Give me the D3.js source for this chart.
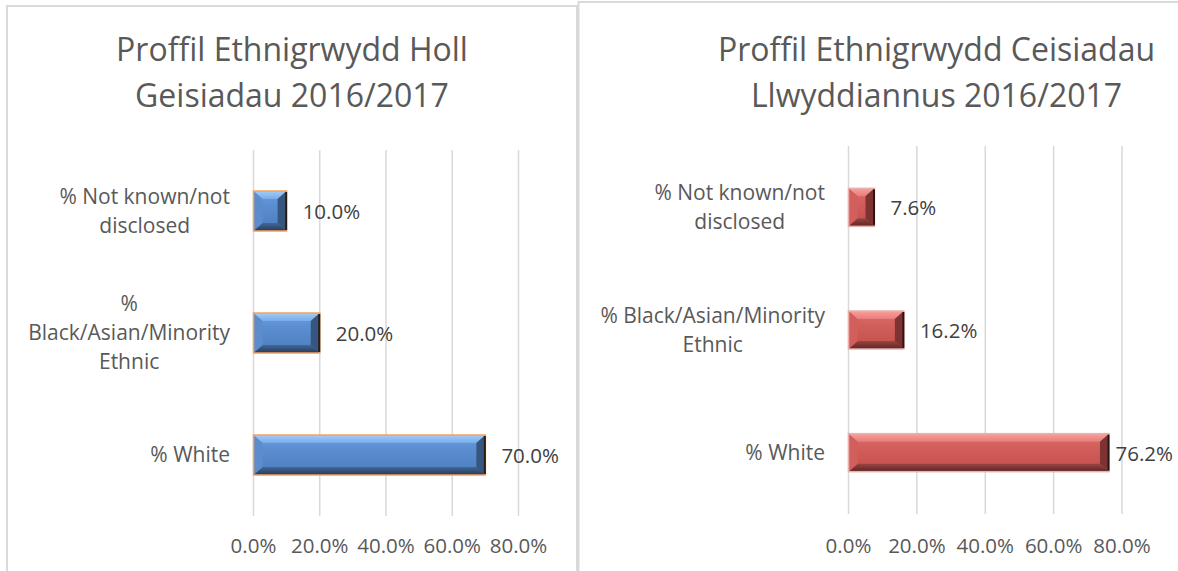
<!DOCTYPE html>
<html>
<head>
<meta charset="utf-8">
<script src="https://cdnjs.cloudflare.com/ajax/libs/d3/7.8.5/d3.min.js"></script>
<style>
  body { margin: 0; background: #fff; }
  svg { display: block; font-family: "Open Sans", "Noto Sans", sans-serif; }
</style>
</head>
<body>
<script>
// categories, bottom to top (Excel order)
const categories = ["% White", "% Black/Asian/Minority Ethnic", "% Not known/not disclosed"];

// wrapped labels as they appear in each chart
const leftLabelLines = [["% White"], ["%", "Black/Asian/Minority", "Ethnic"], ["% Not known/not", "disclosed"]];
const rightLabelLines = [["% White"], ["% Black/Asian/Minority", "Ethnic"], ["% Not known/not", "disclosed"]];

// values in percent
const allApplicants = [70.0, 20.0, 10.0];
const successfulApplicants = [76.2, 16.2, 7.6];

const tickValues = [0, 20, 40, 60, 80];

const leftTitle = ["Proffil Ethnigrwydd Holl", "Geisiadau 2016/2017"];
const rightTitle = ["Proffil Ethnigrwydd Ceisiadau", "Llwyddiannus 2016/2017"];

const svg = d3.select("body")
  .append("svg")
  .attr("width", 1178)
  .attr("height", 571);

const defs = svg.append("defs");

function gradient(id, stops) {
  const g = defs.append("linearGradient")
    .attr("id", id)
    .attr("x1", 0).attr("y1", 0).attr("x2", 0).attr("y2", 1);
  stops.forEach(s => g.append("stop").attr("offset", s[0]).attr("stop-color", s[1]));
}

// blue bevel palette
gradient("blueMid", [[0, "#6c9fde"], [0.35, "#5b8ed1"], [1, "#4d7cba"]]);
gradient("blueTop", [[0, "#a3cdf7"], [1, "#78abe8"]]);
gradient("blueBot", [[0, "#41679a"], [1, "#283b55"]]);
// red bevel palette
gradient("redMid", [[0, "#dd6d6a"], [0.35, "#d25f5c"], [1, "#c44f4c"]]);
gradient("redTop", [[0, "#f7a09c"], [1, "#e87c79"]]);
gradient("redBot", [[0, "#9a4542"], [1, "#5a2523"]]);

const blueStyle = { mid: "url(#blueMid)", top: "url(#blueTop)", bot: "url(#blueBot)",
  left: "#5c8ccc", right: "#36567f", edge: "#2a1c10", outline: "#f4a25f" };
const redStyle = { mid: "url(#redMid)", top: "url(#redTop)", bot: "url(#redBot)",
  left: "#d35f5c", right: "#7c3331", edge: "#2e1514", outline: "#e9b0ae" };

// panel borders
svg.append("rect")
  .attr("x", 7).attr("y", 6)
  .attr("width", 570).attr("height", 620)
  .attr("fill", "none").attr("stroke", "#d9d9d9").attr("stroke-width", 2);
svg.append("rect")
  .attr("x", 578.5).attr("y", 2)
  .attr("width", 700).attr("height", 620)
  .attr("fill", "none").attr("stroke", "#d9d9d9").attr("stroke-width", 2);

function drawChart(cfg) {
  const g = svg.append("g");

  // title
  g.selectAll(".title")
    .data(cfg.title)
    .join("text")
    .attr("x", cfg.titleX)
    .attr("y", (d, i) => 61 + i * 45.5)
    .attr("text-anchor", "middle")
    .attr("font-size", "32px")
    .attr("fill", "#595959")
    .text(d => d);

  const x = d3.scaleLinear().domain([0, 80]).range([cfg.x0, cfg.x1]);
  const p = 1 - cfg.barH / ((cfg.bottom - cfg.top) / categories.length);
  const y = d3.scaleBand()
    .domain(categories.slice().reverse())
    .range([cfg.top, cfg.bottom])
    .paddingInner(p)
    .paddingOuter(p / 2);

  // gridlines
  g.selectAll(".grid")
    .data(tickValues)
    .join("line")
    .attr("x1", d => x(d)).attr("x2", d => x(d))
    .attr("y1", cfg.top).attr("y2", cfg.bottom)
    .attr("stroke", "#d9d9d9")
    .attr("stroke-width", 1.5);

  // tick labels
  g.selectAll(".tick")
    .data(tickValues)
    .join("text")
    .attr("x", d => x(d))
    .attr("y", 553)
    .attr("text-anchor", "middle")
    .attr("font-size", "20.5px")
    .attr("fill", "#595959")
    .text(d => d3.format(".1f")(d) + "%");

  // bars with bevel
  const st = cfg.style;
  categories.forEach((c, i) => {
    const bx = x(0), by = y(c), bw = x(cfg.values[i]) - x(0), bh = y.bandwidth();
    const ex = Math.min(9, bw / 2), ey = Math.min(8, bh / 2);
    const bar = g.append("g");
    bar.append("rect")
      .attr("x", bx).attr("y", by).attr("width", bw).attr("height", bh)
      .attr("fill", st.mid);
    const poly = (pts, fill) => bar.append("polygon")
      .attr("points", pts.map(q => q.join(",")).join(" "))
      .attr("fill", fill);
    poly([[bx, by], [bx + bw, by], [bx + bw - ex, by + ey], [bx + ex, by + ey]], st.top);
    poly([[bx, by + bh], [bx + bw, by + bh], [bx + bw - ex, by + bh - ey], [bx + ex, by + bh - ey]], st.bot);
    poly([[bx, by], [bx + ex, by + ey], [bx + ex, by + bh - ey], [bx, by + bh]], st.left);
    poly([[bx + bw, by], [bx + bw - ex, by + ey], [bx + bw - ex, by + bh - ey], [bx + bw, by + bh]], st.right);
    bar.append("rect")
      .attr("x", bx).attr("y", by).attr("width", bw).attr("height", bh)
      .attr("fill", "none")
      .attr("stroke", st.outline)
      .attr("stroke-width", 1.5);
    bar.append("line")
      .attr("x1", bx + bw - 0.5).attr("x2", bx + bw - 0.5)
      .attr("y1", by + 1).attr("y2", by + bh - 1)
      .attr("stroke", st.edge)
      .attr("stroke-width", 2);

    // value label, kept inside the chart area
    const lbl = g.append("text")
      .attr("y", by + bh / 2 + 8)
      .attr("font-size", "20.5px")
      .attr("fill", "#404040")
      .text(d3.format(".1f")(cfg.values[i]) + "%");
    const w = lbl.node().getComputedTextLength();
    lbl.attr("x", Math.min(x(cfg.values[i]) + 16, cfg.clamp - w));

    // category label: centred block, right-aligned to the axis
    const lines = cfg.labels[i];
    const cy = by + bh / 2;
    const tl = g.append("g");
    const texts = tl.selectAll("text")
      .data(lines)
      .join("text")
      .attr("y", (d, j) => cy + (j - (lines.length - 1) / 2) * 29 + 7.2)
      .attr("text-anchor", "middle")
      .attr("font-size", "21px")
      .attr("fill", "#595959")
      .text(d => d);
    let maxW = 0;
    texts.each(function () { maxW = Math.max(maxW, this.getComputedTextLength()); });
    texts.attr("x", cfg.x0 - 23.5 - maxW / 2);
  });
}

drawChart({
  title: leftTitle, titleX: 292,
  x0: 253.5, x1: 518.5, top: 150, bottom: 516, barH: 40,
  values: allApplicants, labels: leftLabelLines,
  style: blueStyle, clamp: 574
});

drawChart({
  title: rightTitle, titleX: 936.5,
  x0: 848.5, x1: 1122, top: 146, bottom: 514, barH: 38,
  values: successfulApplicants, labels: rightLabelLines,
  style: redStyle, clamp: 1173
});
</script>
</body>
</html>
